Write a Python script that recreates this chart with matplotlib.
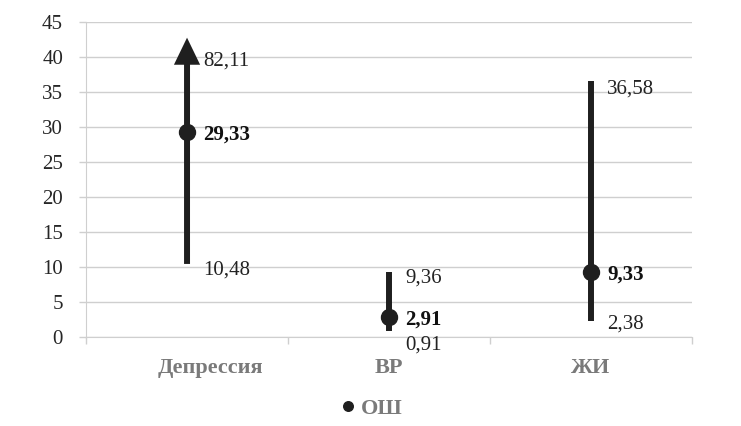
import matplotlib
matplotlib.use("Agg")
import matplotlib.pyplot as plt
import matplotlib.transforms as mtransforms

plt.rcParams['font.family'] = ['Liberation Serif', 'DejaVu Serif']

categories = ["Депрессия", "ВР", "ЖИ"]
odds = [29.33, 2.91, 9.33]
lower = [10.48, 0.91, 2.38]
upper = [82.11, 9.36, 36.58]
odds_labels = ["29,33", "2,91", "9,33"]
lower_labels = ["10,48", "0,91", "2,38"]
upper_labels = ["82,11", "9,36", "36,58"]

ymax = 45
arrow_tip = 42.8     # where the arrow is drawn when upper CI is off the scale
label_cap = 39.7     # where the label of an off-scale value sits
lower_shift = [-4.5, -10.5, -2.5]   # points, vertical nudge of the lower labels
upper_shift = [-1.5, -4.5, -5.5]

dark = "#1f1f1f"
grid_c = "#cfcfcf"
gray_txt = "#7a7a7a"

fig = plt.figure(figsize=(7.41, 4.26), dpi=100)
ax = fig.add_axes([0.1161, 0.2082, 0.8178, 0.7395])

x = list(range(len(categories)))

for i in x:
    if upper[i] > ymax:
        ax.annotate("", xy=(i, arrow_tip), xytext=(i, lower[i]),
                    arrowprops=dict(arrowstyle="-|>,head_length=0.62,head_width=0.3",
                                    lw=4.3, color=dark, shrinkA=0, shrinkB=0,
                                    mutation_scale=20, joinstyle="miter",
                                    capstyle="butt"),
                    zorder=3)
    else:
        ax.vlines(i, lower[i], upper[i], color=dark, lw=4.3, zorder=3)

ax.plot(x, odds, "o", color=dark, markersize=11.5, label="ОШ", zorder=4)

for i in x:
    up_y = upper[i] if upper[i] <= ymax else label_cap
    ax.annotate(upper_labels[i], (i, up_y), xytext=(11.5, upper_shift[i]),
                textcoords="offset points", va="center", ha="left",
                fontsize=15, color="#222222")
    ax.annotate(lower_labels[i], (i, lower[i]), xytext=(11.5, lower_shift[i]),
                textcoords="offset points", va="center", ha="left",
                fontsize=15, color="#222222")
    ax.annotate(odds_labels[i], (i, odds[i]), xytext=(11.5, -2),
                textcoords="offset points", va="center", ha="left",
                fontsize=15, fontweight="bold", color="#111111")

ax.set_xlim(-0.5, len(categories) - 0.5)
ax.set_ylim(0, ymax)
ax.set_yticks(range(0, 46, 5))
ax.yaxis.grid(True, color=grid_c, lw=1)
ax.set_axisbelow(True)

ax.set_xticks([-0.5, 0.5, 1.5, 2.5])
ax.set_xticklabels([])
ax.set_xticks(x, minor=True)
ax.set_xticklabels(categories, minor=True, fontsize=16, fontweight="bold",
                   color=gray_txt)
ax.tick_params(axis="x", which="major", length=5, color=grid_c, width=1)
ax.tick_params(axis="x", which="minor", length=0, pad=15)
ax.tick_params(axis="y", length=5, color=grid_c, width=1, labelsize=15,
               labelcolor="#262626", pad=11.5)

# first category label sits a bit right of its slot in the original
lbl = ax.get_xticklabels(minor=True)[0]
lbl.set_transform(lbl.get_transform() +
                  mtransforms.ScaledTranslation(23 / 100, 0, fig.dpi_scale_trans))

for s in ["top", "right"]:
    ax.spines[s].set_visible(False)
ax.spines["left"].set_color(grid_c)
ax.spines["bottom"].set_color(grid_c)

leg = fig.legend(loc="center", bbox_to_anchor=(0.502, 0.04), frameon=False,
                 markerscale=0.6, handlelength=0.6, handletextpad=0.3,
                 prop={"size": 16, "weight": "bold"})
for t in leg.get_texts():
    t.set_color(gray_txt)

fig.savefig("out.png", dpi=100)
